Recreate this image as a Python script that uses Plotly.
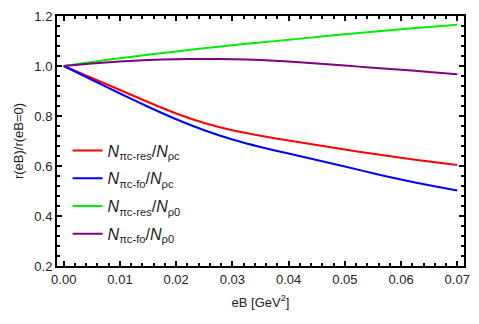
import plotly.graph_objects as go

eB = [0.0, 0.005, 0.01, 0.015, 0.02, 0.025, 0.03, 0.035, 0.04, 0.045, 0.05, 0.055, 0.06, 0.065, 0.07]
r_pic_res_rhoc = [1.0, 0.952, 0.904, 0.856, 0.81, 0.772, 0.743, 0.721, 0.702, 0.684, 0.666, 0.649, 0.633, 0.618, 0.604]
r_pic_fo_rhoc = [1.0, 0.945, 0.89, 0.837, 0.787, 0.743, 0.706, 0.676, 0.65, 0.624, 0.598, 0.571, 0.546, 0.523, 0.502]
r_pic_res_rho0 = [1.0, 1.016, 1.031, 1.045, 1.058, 1.071, 1.083, 1.094, 1.105, 1.116, 1.127, 1.137, 1.147, 1.156, 1.165]
r_pic_fo_rho0 = [1.0, 1.01, 1.018, 1.024, 1.027, 1.028, 1.027, 1.024, 1.018, 1.01, 1.002, 0.993, 0.985, 0.976, 0.967]

names = [
    "<i>N</i><sub>πc-res</sub>/<i>N</i><sub>ρc</sub>",
    "<i>N</i><sub>πc-fo</sub>/<i>N</i><sub>ρc</sub>",
    "<i>N</i><sub>πc-res</sub>/<i>N</i><sub>ρ0</sub>",
    "<i>N</i><sub>πc-fo</sub>/<i>N</i><sub>ρ0</sub>",
]
colors = ["#ff0000", "#0000ff", "#00ee00", "#800080"]
series = [r_pic_res_rhoc, r_pic_fo_rhoc, r_pic_res_rho0, r_pic_fo_rho0]

fig = go.Figure()
for i, (name, col, ys) in enumerate(zip(names, colors, series)):
    fig.add_trace(go.Scatter(x=eB, y=ys, mode="lines", name=name, legendgroup=f"g{i}",
                             line=dict(color=col, width=2, shape="spline", smoothing=0.6)))

axis_common = dict(
    showline=True, linecolor="black", linewidth=2, mirror="allticks",
    ticks="inside", tickcolor="black", tickwidth=1.5, ticklen=5,
    showgrid=False, zeroline=False, ticklabeloverflow="allow",
    tickfont=dict(family="Liberation Sans, Arial", size=13, color="#222"),
    title_font=dict(family="Liberation Sans, Arial", size=13, color="#222"),
)

fig.update_layout(
    width=479, height=324,
    margin=dict(l=57, r=9, t=9, b=58),
    plot_bgcolor="white", paper_bgcolor="white",
    font=dict(family="Liberation Sans, Arial", size=13, color="#222"),
    xaxis=dict(range=[-0.0012, 0.0712], dtick=0.01, tick0=0, tickformat=".2f",
               title=dict(text="eB [GeV<sup>2</sup>]", standoff=12),
               minor=dict(ticks="inside", dtick=0.002, ticklen=3, tickcolor="black", tickwidth=1.5),
               **axis_common),
    yaxis=dict(range=[0.2, 1.2], dtick=0.2, tick0=0.2, tickformat=".1f",
               title=dict(text="r(eB)/r(eB=0)", standoff=8),
               minor=dict(ticks="inside", dtick=0.04, ticklen=3, tickcolor="black", tickwidth=1.5),
               **axis_common),
    legend=dict(x=0.026, y=0.53, xanchor="left", yanchor="top",
                bgcolor="rgba(0,0,0,0)", font=dict(size=16, color="#222"),
                tracegroupgap=4, itemwidth=30),
)

fig.write_html("out.html", config={"displayModeBar": False},
               post_script="document.body.style.margin='0';")
